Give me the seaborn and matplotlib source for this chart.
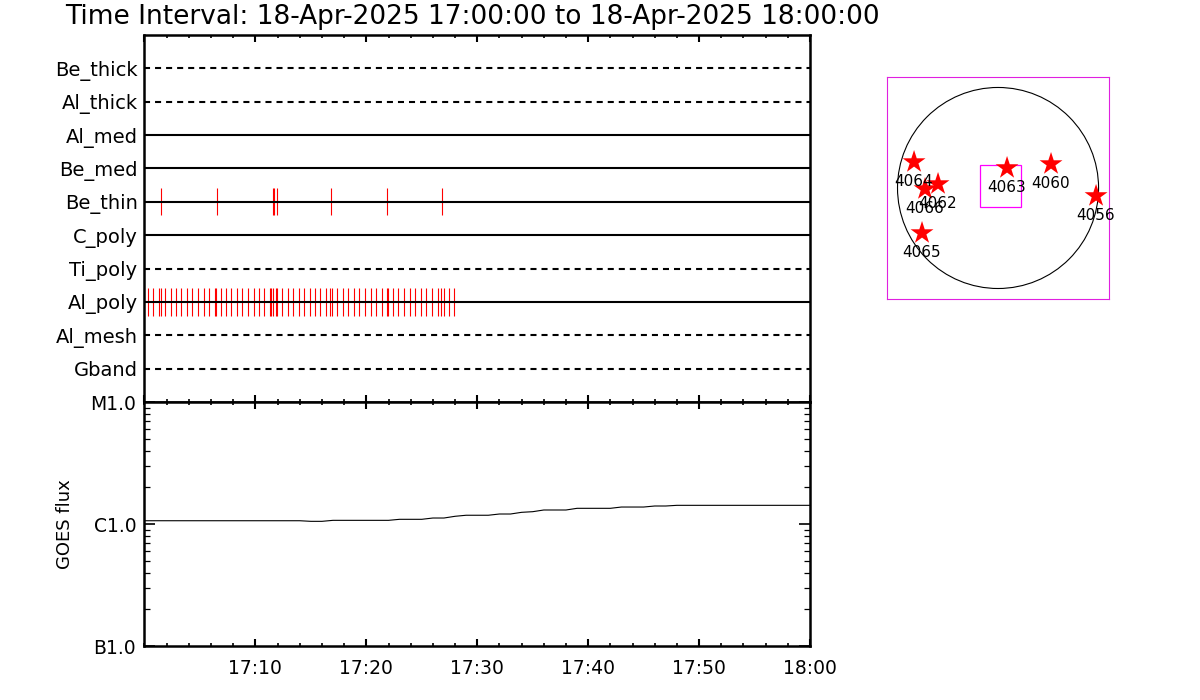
import matplotlib
matplotlib.use("Agg")
import matplotlib.pyplot as plt
import matplotlib.ticker as mticker
from matplotlib.patches import Circle, Rectangle
import seaborn as sns

# ---- data ------------------------------------------------------------
channels = ["Be_thick", "Al_thick", "Al_med", "Be_med", "Be_thin",
            "C_poly", "Ti_poly", "Al_poly", "Al_mesh", "Gband"]
channel_dashed = [True, True, False, False, False, False, True, False, True, True]

# exposure times, minutes after 17:00
be_thin_times = [1.51, 6.50, 11.60, 11.68, 11.96, 16.83, 21.87, 26.83]
al_poly_times = [0.35, 0.80, 1.34, 1.49, 1.88, 2.36, 2.84, 3.32, 3.86, 4.31,
                 4.82, 5.33, 5.81, 6.32, 6.47, 6.86, 7.34, 7.82, 8.33, 8.81,
                 9.32, 9.84, 10.32, 10.80, 11.31, 11.43, 11.55, 11.82, 11.91, 12.42,
                 12.90, 13.41, 13.92, 14.40, 14.88, 15.36, 15.84, 16.35, 16.77, 16.89,
                 17.37, 17.88, 18.39, 18.90, 19.38, 19.89, 20.41, 20.89, 21.40, 21.82,
                 21.94, 22.42, 22.90, 23.41, 23.92, 24.40, 24.91, 25.42, 25.90, 26.47,
                 26.71, 26.98, 27.46, 27.94]

# GOES 1-8 A flux, one value per minute from 17:00 to 18:00 (units of 1e-6 W/m^2)
goes_minutes = list(range(61))
goes_flux_c = [1.064, 1.064, 1.064, 1.064, 1.064, 1.064, 1.064, 1.064, 1.064, 1.064,
               1.064, 1.064, 1.064, 1.064, 1.064, 1.052, 1.052, 1.072, 1.072, 1.072,
               1.072, 1.072, 1.072, 1.093, 1.093, 1.093, 1.120, 1.120, 1.157, 1.180,
               1.180, 1.180, 1.208, 1.208, 1.247, 1.262, 1.303, 1.303, 1.303, 1.345,
               1.345, 1.345, 1.345, 1.378, 1.378, 1.378, 1.405, 1.405, 1.423, 1.423,
               1.423, 1.423, 1.423, 1.423, 1.423, 1.423, 1.423, 1.423, 1.423, 1.423,
               1.423]

time_ticks = [10, 20, 30, 40, 50, 60]
time_labels = ["17:10", "17:20", "17:30", "17:40", "17:50", "18:00"]

# active regions, heliocentric arcsec
ar_numbers = ["4064", "4062", "4066", "4065", "4063", "4060", "4056"]
ar_x = [-802, -573, -697, -726, 86, 506, 936]
ar_y = [248, 38, -10, -430, 191, 229, -76]

# ---- plot ------------------------------------------------------------
sns.set_style("ticks")
plt.rcParams["font.family"] = ["DejaVu Sans"]
plt.rcParams["text.color"] = "black"
plt.rcParams["xtick.color"] = "black"
plt.rcParams["ytick.color"] = "black"
plt.rcParams["axes.labelcolor"] = "black"

fig = plt.figure(figsize=(12, 7), dpi=100)
ax_top = fig.add_axes([0.1204, 0.4257, 0.5546, 0.5243])
ax_goes = fig.add_axes([0.1204, 0.0771, 0.5546, 0.3486])
ax_map = fig.add_axes([0.7392, 0.5729, 0.185, 0.3171])

fig.text(0.054, 0.976, "Time Interval: 18-Apr-2025 17:00:00 to 18-Apr-2025 18:00:00",
         ha="left", va="center", fontsize=19)

# channel rows
row_pos = list(range(len(channels), 0, -1))
for name, y, dashed in zip(channels, row_pos, channel_dashed):
    style = (0, (2.9, 2.4)) if dashed else "solid"
    ax_top.hlines(y, 0, 60, colors="black", lw=1.5, linestyles=style, zorder=2)

y_thin = row_pos[channels.index("Be_thin")]
y_poly = row_pos[channels.index("Al_poly")]
ax_top.vlines(be_thin_times, y_thin - 0.4, y_thin + 0.4, colors="red", lw=0.8, zorder=1)
ax_top.vlines(al_poly_times, y_poly - 0.42, y_poly + 0.42, colors="red", lw=0.8, zorder=1)

ax_top.set_xlim(0, 60)
ax_top.set_ylim(0, 11)
ax_top.set_yticks(row_pos)
ax_top.set_yticklabels(channels)
ax_top.tick_params(axis="y", length=0, pad=5, labelsize=14)

# GOES panel
goes_flux = [v * 1e-6 for v in goes_flux_c]
sns.lineplot(x=goes_minutes, y=goes_flux, ax=ax_goes, color="black", lw=0.8)
ax_goes.set_yscale("log")
ax_goes.set_ylim(1e-7, 1e-5)
ax_goes.yaxis.set_major_locator(mticker.FixedLocator([1e-7, 1e-6, 1e-5]))
ax_goes.yaxis.set_major_formatter(mticker.FixedFormatter(["B1.0", "C1.0", "M1.0"]))
ax_goes.yaxis.set_minor_locator(mticker.LogLocator(base=10, subs=range(2, 10)))
ax_goes.yaxis.set_minor_formatter(mticker.NullFormatter())
ax_goes.set_ylabel("GOES flux", fontsize=13)
ax_goes.yaxis.set_label_coords(-0.106, 0.5)
ax_goes.tick_params(axis="y", which="both", direction="in", left=True, right=True,
                    labelsize=13.5, pad=6)
ax_goes.tick_params(axis="y", which="major", length=8, width=1.2)
ax_goes.tick_params(axis="y", which="minor", length=4.5, width=0.9)

for ax in (ax_top, ax_goes):
    ax.set_xlim(0, 60)
    ax.xaxis.set_major_locator(mticker.MultipleLocator(10))
    ax.xaxis.set_minor_locator(mticker.MultipleLocator(2))
    ax.tick_params(axis="x", which="both", direction="in", top=True, bottom=True)
    ax.tick_params(axis="x", which="major", length=5, width=1.5)
    ax.tick_params(axis="x", which="minor", length=2.2, width=1.2)
    for sp in ax.spines.values():
        sp.set_linewidth(1.8)
        sp.set_color("black")
ax_top.tick_params(axis="x", labelbottom=False)
ax_goes.set_xticks(time_ticks, labels=time_labels)
ax_goes.tick_params(axis="x", labelsize=13.5, pad=9)

# sun map
ax_map.set_xlim(-1060, 1060)
ax_map.set_ylim(-1060, 1060)
ax_map.set_xticks([])
ax_map.set_yticks([])
for sp in ax_map.spines.values():
    sp.set_linewidth(0.8)
    sp.set_color("#e020e0")
ax_map.add_patch(Circle((0, 0), 960, fill=False, ec="black", lw=0.8))
ax_map.add_patch(Rectangle((-176, -180), 400, 400, fill=False, ec="#ff00ff", lw=0.9))
sns.scatterplot(x=ar_x, y=ar_y, ax=ax_map, marker="*", s=300, color="red",
                edgecolor="none", zorder=3)
for num, x, y in zip(ar_numbers, ar_x, ar_y):
    ax_map.annotate(num, (x, y), xytext=(0, -14), textcoords="offset points",
                    ha="center", va="center", fontsize=11, zorder=4)

fig.savefig("out.png", dpi=100)
